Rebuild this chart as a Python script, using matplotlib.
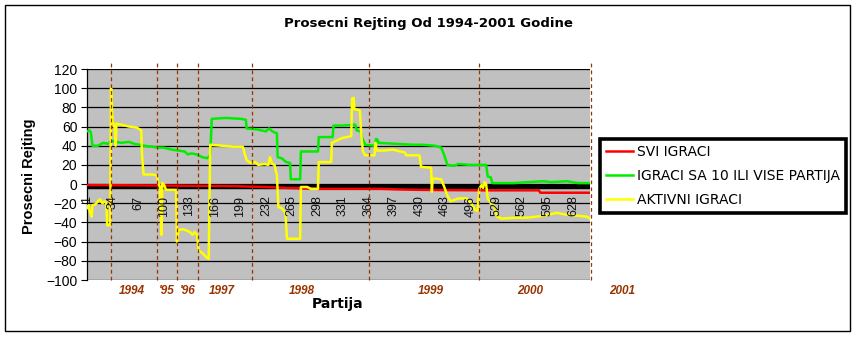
import matplotlib
matplotlib.use('Agg')
import matplotlib.pyplot as plt
from matplotlib.patches import Rectangle

plt.rcParams['font.family'] = ['Liberation Sans', 'DejaVu Sans']

# SVI IGRACI
svi_p = [1, 100, 180, 230, 260, 300, 380, 400, 430, 470, 520, 584, 586, 650]
svi_v = [-1, -1.5, -2, -3, -4, -5, -5, -5.5, -6, -6.3, -6.5, -6.5, -9, -9]

# IGRACI SA 10 ILI VISE PARTIJA
deset_p = [1, 4, 6, 8, 15, 22, 28, 32, 45, 55, 62, 75, 93, 100, 110, 127, 131, 136,
           142, 150, 156, 160, 162, 180, 200, 206, 207, 220, 232, 236, 240, 246, 247,
           252, 258, 263, 264, 276, 277, 299, 300, 318, 319, 330, 347, 349, 354, 356,
           360, 372, 374, 376, 377, 400, 420, 433, 450, 458, 462, 466, 475, 480, 495,
           516, 518, 522, 524, 550, 570, 590, 600, 620, 635, 650]
deset_v = [55, 56, 54, 40, 40, 43, 42, 45, 43, 44, 42, 40, 38, 38, 36, 34, 31, 32,
           31, 28, 27, 30, 68, 69, 68, 67, 58, 57, 55, 58, 55, 53, 28,
           27, 23, 22, 5, 5, 34, 34, 49, 49, 61, 61, 62, 56, 55, 48,
           41, 40, 47, 46, 43, 42, 41, 41, 40, 38, 30, 20, 19, 21, 20,
           20, 8, 7, 1, 1, 2, 3, 2, 3, 1, 1]

# AKTIVNI IGRACI
aktiv_p = [1, 3, 5, 7, 8, 12, 16, 18, 21, 24, 26, 27, 31, 32, 33, 34, 36, 37, 38, 39,
           45, 55, 65, 71, 72, 74, 85, 91, 93, 95, 97, 98, 100, 103, 116, 117, 119,
           125, 134, 137, 140, 143, 145, 150, 156, 158, 160, 175, 190, 202, 205, 207,
           212, 218, 222, 230, 235, 237, 240, 243, 246, 248, 252, 257, 259, 276, 277,
           285, 290, 299, 300, 316, 317, 325, 330, 342, 343, 345, 346, 353, 355, 357,
           360, 372, 373, 375, 385, 395, 411, 413, 430, 432, 445, 446, 447, 458, 462,
           466, 470, 480, 491, 495, 502, 505, 507, 510, 512, 514, 516, 518, 522, 526,
           530, 536, 555, 570, 590, 607, 620, 635, 646, 650]
aktiv_v = [-25, -22, -30, -34, -22, -21, -17, -16, -20, -18, -20, -43, -43, 100, 80, 65,
           62, 55, 40, 63, 62, 60, 59, 56, 30, 10, 10, 9, 1, -3, -53, 1, 0, -6, -6, -60,
           -48, -47, -50, -53, -50, -53, -69, -72, -77, -78, 41, 40, 39, 39, 30, 25,
           22, 23, 20, 21, 20, 28, 21, 20, 9, -24, -25, -30, -57, -57, -3,
           -3, -5, -5, 23, 23, 43, 46, 48, 50, 89, 90, 78, 77, 50, 34,
           30, 30, 43, 35, 35, 36, 33, 30, 30, 18, 17, -8, 6, 5, -3,
           -12, -18, -15, -15, -18, -27, -28, -5, -1, -4, 2, 0, -15, -20, -22,
           -34, -36, -35, -35, -33, -30, -32, -33, -34, -36]

tick_pos = [1, 34, 67, 100, 133, 166, 199, 232, 265, 298, 331, 364, 397, 430, 463,
            496, 529, 562, 595, 628]
tick_labels = [str(t) for t in tick_pos]

year_breaks = [32, 91, 117, 144, 214, 365, 507, 651]
year_labels = ['1994', "'95", "'96", '1997', '1998', '1999', '2000', '2001']
year_label_pos = [59, 104, 131, 175, 278, 444, 573, 691]

W, H = 857, 337
fig = plt.figure(figsize=(W / 100, H / 100), dpi=100)
fig.patch.set_facecolor('white')
ax = fig.add_axes([87 / W, 1 - 280 / H, 503 / W, 211 / H])
ax.set_facecolor('#c0c0c0')

ax.set_xlim(1, 650)
ax.set_ylim(-100, 120)
ax.set_yticks(range(-100, 121, 20))
ax.yaxis.grid(True, color='black', lw=0.9)
ax.set_axisbelow(True)
ax.tick_params(axis='y', labelsize=10, length=4, pad=3, color='black')
ax.set_xticks([])
for s in ['top', 'right', 'bottom']:
    ax.spines[s].set_visible(False)
ax.spines['left'].set_linewidth(0.9)

# axis band
ax.axhline(-3.5, color='black', lw=3.2, zorder=2)

ax.plot(svi_p, svi_v, color='#ff0000', lw=1.8, label='SVI IGRACI', zorder=3)
ax.plot(deset_p, deset_v, color='#00ee00', lw=1.8, label='IGRACI SA 10 ILI VISE PARTIJA', zorder=3)
ax.plot(aktiv_p, aktiv_v, color='#ffff00', lw=1.8, label='AKTIVNI IGRACI', zorder=4)

for p, lab in zip(tick_pos, tick_labels):
    ax.text(p, -12, lab, rotation=90, ha='center', va='top', fontsize=9, color='#111111', zorder=5)

ax.vlines(year_breaks, -100, 126, colors='#993300', linestyles=(0, (3, 2.5)), lw=0.9,
          clip_on=False, zorder=5)
for p, lab in zip(year_label_pos, year_labels):
    ax.text(p, -0.052, lab, transform=ax.get_xaxis_transform(), ha='center', va='center',
            fontsize=8.5, fontweight='bold', fontstyle='italic', color='#993300', clip_on=False)

fig.text(428 / W, 1 - 24 / H, 'Prosecni Rejting Od 1994-2001 Godine', ha='center', va='center',
         fontsize=9.5, fontweight='bold', family='DejaVu Sans')
fig.text(29 / W, 1 - 176 / H, 'Prosecni Rejting', rotation=90, ha='center', va='center',
         fontsize=10.5, fontweight='bold')
fig.text(338 / W, 1 - 304 / H, 'Partija', ha='center', va='center', fontsize=10,
         fontweight='bold', family='DejaVu Sans')

leg = fig.legend(loc='upper left', bbox_to_anchor=(600 / W, 1 - 139 / H),
                 prop={'family': 'DejaVu Sans', 'size': 10},
                 frameon=True, fancybox=False, edgecolor='black', framealpha=1,
                 handlelength=1.95, handletextpad=0.3, borderpad=0.42, labelspacing=0.72,
                 borderaxespad=0)
leg.get_frame().set_linewidth(2.6)

fig.patches.append(Rectangle((5 / W, 1 - 331 / H), 845 / W, 326 / H, transform=fig.transFigure,
                             fill=False, lw=1, ec='black'))

fig.savefig('out.png', dpi=100)
